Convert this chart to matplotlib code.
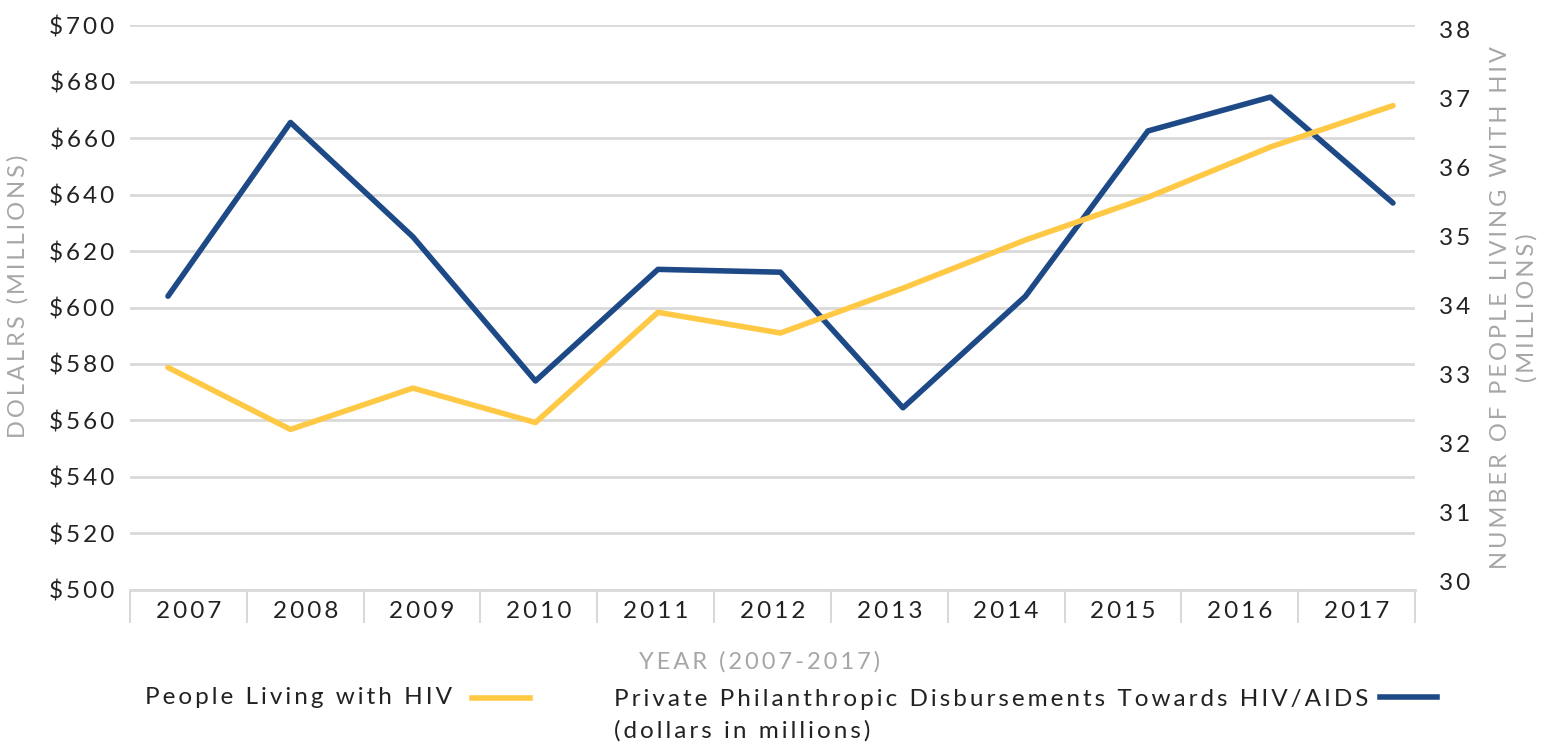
"""
Private philanthropic disbursements towards HIV/AIDS vs. people living with HIV, 2007-2017.
"""

import matplotlib.pyplot as plt
from matplotlib.lines import Line2D

plt.rcParams['font.family'] = ['Lato', 'DejaVu Sans']

YEARS = ['2007', '2008', '2009', '2010', '2011', '2012', '2013', '2014', '2015', '2016', '2017']
DISBURSEMENTS = [604, 665.5, 625, 574, 613.5, 612.5, 564.5, 604, 662.5, 674.5, 637]   # $ millions
PEOPLE_HIV = [33.1, 32.2, 32.8, 32.3, 33.9, 33.6, 34.25, 34.95, 35.57, 36.3, 36.9]   # millions

LEFT_TICKS = list(range(500, 701, 20))
RIGHT_TICKS = list(range(30, 39))

BLUE = '#1d4a87'
YELLOW = '#ffc845'
GRID = '#d9d9d9'
LABEL_GRAY = '#a6a6a6'
TEXT = '#222222'
FS = 17.5      # tick / legend text
FS_TITLE = 17  # axis titles


def spaced(s):
    # fake letter-spacing with thin spaces
    return '\u2009'.join(s)


def main():
    fig = plt.figure(figsize=(15.57, 7.47), dpi=100)
    ax = fig.add_axes([0.0835, 0.2102, 0.8253, 0.7563])

    x = list(range(len(YEARS)))

    # left axis: disbursements
    ax.plot(x, DISBURSEMENTS, color=BLUE, lw=4, solid_capstyle='round', zorder=3)
    ax.set_xlim(-0.31, 10.18)
    ax.set_ylim(500, 700)
    ax.set_yticks(LEFT_TICKS)
    ax.set_yticklabels([spaced(f'${v}') for v in LEFT_TICKS])
    ax.tick_params(axis='y', length=0, pad=11, labelsize=FS, labelcolor=TEXT)
    ax.set_xticks([])
    ax.grid(axis='y', color=GRID, lw=2)
    ax.set_axisbelow(True)
    for s in ax.spines.values():
        s.set_visible(False)
    ax.set_ylabel(spaced('DOLALRS (MILLIONS)'), color=LABEL_GRAY, fontsize=FS_TITLE)
    ax.yaxis.set_label_coords(-0.079, 0.52)

    # right axis: people living with HIV
    ax_r = ax.twinx()
    ax_r.plot(x, PEOPLE_HIV, color=YELLOW, lw=4, solid_capstyle='round', zorder=3)
    ax_r.set_ylim(29.87, 38.07)
    ax_r.set_yticks(RIGHT_TICKS)
    ax_r.set_yticklabels([spaced(str(v)) for v in RIGHT_TICKS])
    ax_r.tick_params(axis='y', length=0, pad=17, labelsize=FS, labelcolor=TEXT)
    for s in ax_r.spines.values():
        s.set_visible(False)
    ax_r.set_ylabel(spaced('NUMBER OF PEOPLE LIVING WITH HIV') + '\n' + spaced('(MILLIONS)'),
                    color=LABEL_GRAY, fontsize=FS_TITLE, rotation=90, linespacing=1.3)
    ax_r.yaxis.set_label_coords(1.058, 0.5)

    # category axis with boxed year labels
    ax_c = ax.twiny()
    ax_c.set_xlim(0, len(YEARS))
    ax_c.xaxis.set_ticks_position('bottom')
    ax_c.xaxis.set_label_position('bottom')
    ax_c.set_xticks([i + 0.5 for i in x])
    ax_c.set_xticklabels([spaced(y) for y in YEARS])
    ax_c.set_xticks(range(len(YEARS) + 1), minor=True)
    ax_c.tick_params(axis='x', which='major', length=0, pad=8, labelsize=FS, labelcolor=TEXT)
    ax_c.tick_params(axis='x', which='minor', length=24, width=1.5, color=GRID)
    for name, s in ax_c.spines.items():
        s.set_visible(name == 'bottom')
    ax_c.spines['bottom'].set_color(GRID)
    ax_c.spines['bottom'].set_linewidth(2)
    ax_c.set_xlabel(spaced('YEAR (2007-2017)'), color=LABEL_GRAY, fontsize=FS_TITLE)
    ax_c.xaxis.set_label_coords(0.49, -0.108)

    # legend: text first, then line sample
    fig.text(145 / 1557, 1 - 698 / 747, spaced('People Living with HIV'), fontsize=FS,
             va='center', ha='left', color=TEXT)
    fig.add_artist(Line2D([472 / 1557, 530 / 1557], [1 - 698 / 747] * 2,
                          color=YELLOW, lw=4, transform=fig.transFigure))
    fig.text(614 / 1557, 1 - 699 / 747,
             spaced('Private Philanthropic Disbursements Towards HIV/AIDS'),
             fontsize=FS, va='center', ha='left', color=TEXT)
    fig.text(614 / 1557, 1 - 731 / 747, spaced('(dollars in millions)'),
             fontsize=FS, va='center', ha='left', color=TEXT)
    fig.add_artist(Line2D([1380 / 1557, 1437 / 1557], [1 - 697 / 747] * 2,
                          color=BLUE, lw=4, transform=fig.transFigure))

    fig.savefig('out.png', dpi=100)


if __name__ == '__main__':
    main()
